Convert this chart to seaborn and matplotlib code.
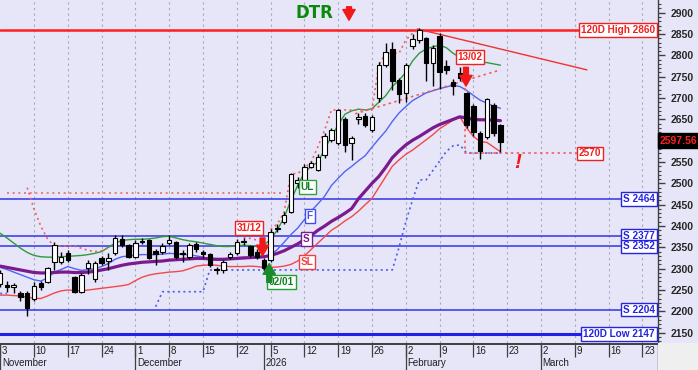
import numpy as np
import pandas as pd
import matplotlib
matplotlib.use("Agg")
import matplotlib.pyplot as plt
from matplotlib.patches import Rectangle
import seaborn as sns

sns.set_style("white")
plt.rcParams["font.family"] = ["Liberation Sans", "DejaVu Sans"]

# ---------------- data ----------------
holidays = ["2025-12-24", "2025-12-25", "2025-12-26", "2025-12-31", "2026-01-01"]
all_days = pd.bdate_range("2025-11-03", "2026-03-31")
days = all_days[~all_days.isin(pd.to_datetime(holidays))]

open_ = [2265, 2262, 2258, 2244, 2244, 2230, 2267, 2269, 2316, 2316,
         2336, 2281, 2246, 2301, 2275, 2324, 2317, 2337, 2369, 2355,
         2328, 2363, 2367, 2342, 2340, 2360, 2363, 2334, 2328, 2358,
         2340, 2334, 2300, 2298, 2327, 2336, 2363, 2352, 2340, 2320,
         2320, 2393, 2410, 2433, 2500, 2508, 2539, 2531, 2566, 2602,
         2594, 2652, 2594, 2652, 2658, 2625, 2700, 2777, 2815, 2742,
         2712, 2822, 2836, 2840, 2783, 2846, 2776, 2737, 2758, 2711,
         2682, 2618, 2609, 2684, 2637]
high = [2298, 2270, 2266, 2248, 2248, 2268, 2272, 2305, 2363, 2338,
        2343, 2283, 2290, 2320, 2318, 2330, 2336, 2380, 2378, 2358,
        2367, 2372, 2369, 2346, 2360, 2378, 2365, 2343, 2360, 2362,
        2344, 2337, 2305, 2320, 2340, 2370, 2373, 2356, 2345, 2325,
        2392, 2405, 2432, 2525, 2515, 2545, 2552, 2568, 2618, 2630,
        2675, 2656, 2612, 2665, 2664, 2660, 2785, 2828, 2832, 2748,
        2782, 2850, 2865, 2843, 2825, 2852, 2790, 2745, 2772, 2713,
        2686, 2622, 2700, 2688, 2640]
low = [2258, 2246, 2243, 2225, 2188, 2225, 2250, 2266, 2297, 2312,
       2315, 2243, 2243, 2288, 2268, 2308, 2296, 2332, 2350, 2325,
       2325, 2358, 2322, 2309, 2335, 2356, 2323, 2316, 2322, 2340,
       2325, 2305, 2288, 2290, 2322, 2332, 2356, 2328, 2322, 2296,
       2316, 2385, 2405, 2430, 2490, 2505, 2535, 2528, 2560, 2598,
       2590, 2574, 2555, 2640, 2632, 2620, 2690, 2772, 2720, 2688,
       2690, 2815, 2830, 2740, 2728, 2722, 2757, 2708, 2740, 2630,
       2612, 2558, 2605, 2612, 2574]
close = [2290, 2258, 2261, 2234, 2207, 2259, 2256, 2301, 2355, 2328,
         2320, 2246, 2285, 2314, 2314, 2313, 2324, 2371, 2355, 2328,
         2360, 2366, 2326, 2334, 2353, 2367, 2328, 2336, 2355, 2345,
         2334, 2309, 2296, 2316, 2334, 2363, 2366, 2332, 2327, 2301,
         2385, 2396, 2426, 2523, 2508, 2539, 2547, 2562, 2611, 2625,
         2672, 2590, 2606, 2655, 2637, 2655, 2777, 2807, 2740, 2710,
         2777, 2838, 2860, 2781, 2818, 2760, 2766, 2729, 2746, 2637,
         2620, 2575, 2698, 2617, 2597.56]

ul_line = [2383, 2372, 2360, 2348, 2338, 2331, 2328, 2327, 2327, 2328,
           2329, 2330, 2331, 2333, 2336, 2340, 2350, 2360, 2366, 2368,
           2369, 2369, 2370, 2372, 2375, 2376, 2372, 2368, 2365, 2363,
           2360, 2357, 2354, 2352, 2352, 2354, 2355, 2354, 2352, 2356,
           2368, 2391, 2420, 2460, 2495, 2525, 2540, 2550, 2580, 2610,
           2637, 2662, 2670, 2674, 2672, 2675, 2690, 2705, 2727, 2742,
           2760, 2787, 2805, 2815, 2820, 2824, 2818, 2805, 2795, 2786,
           2785, 2785, 2783, 2780, 2777]
fast_line = [2303, 2298, 2292, 2286, 2280, 2274, 2271, 2278, 2292, 2298,
             2305, 2300, 2296, 2298, 2300, 2305, 2312, 2322, 2328, 2330,
             2332, 2333, 2333, 2333, 2334, 2336, 2335, 2333, 2333, 2330,
             2327, 2322, 2320, 2320, 2322, 2326, 2327, 2326, 2325, 2327,
             2332, 2345, 2362, 2380, 2395, 2415, 2435, 2452, 2470, 2495,
             2512, 2528, 2540, 2553, 2565, 2585, 2604, 2622, 2645, 2665,
             2680, 2694, 2703, 2712, 2717, 2722, 2726, 2730, 2727, 2718,
             2706, 2695, 2688, 2681, 2676]
slow_line = [2306, 2303, 2300, 2297, 2294, 2291, 2290, 2290, 2291, 2292,
             2292, 2291, 2291, 2292, 2294, 2297, 2300, 2304, 2308, 2311,
             2313, 2315, 2316, 2317, 2318, 2320, 2321, 2322, 2323, 2324,
             2324, 2323, 2322, 2322, 2323, 2324, 2325, 2326, 2327, 2328,
             2331, 2336, 2342, 2350, 2358, 2368, 2378, 2390, 2400, 2411,
             2420, 2430, 2441, 2464, 2482, 2500, 2516, 2537, 2560, 2576,
             2590, 2601, 2610, 2620, 2630, 2638, 2644, 2650, 2656, 2653,
             2650, 2649, 2649, 2648, 2647]
sl_line = [2238, 2238, 2237, 2236, 2233, 2231, 2230, 2236, 2243, 2248,
           2250, 2249, 2248, 2250, 2252, 2254, 2256, 2258, 2260, 2263,
           2272, 2280, 2285, 2288, 2290, 2292, 2293, 2295, 2300, 2306,
           2308, 2309, 2308, 2306, 2305, 2305, 2305, 2306, 2305, 2303,
           2303, 2304, 2306, 2310, 2318, 2330, 2345, 2360, 2375, 2390,
           2400, 2412, 2422, 2435, 2450, 2465, 2490, 2515, 2540, 2555,
           2568, 2578, 2590, 2602, 2614, 2628, 2638, 2648, 2656, 2630,
           2610, 2598, 2596, 2585, 2574]
N = np.nan
stop_line = [2242, 2242, N, N, N, N, N, N, N, N,
             N, N, N, N, N, N, N, N, N, N,
             N, N, N, 2211, 2246, 2246, 2246, 2246, 2246, 2246,
             2246, 2297, 2297, 2297, 2297, 2297, 2297, 2297, 2297, 2297,
             2297, 2297, 2297, 2297, 2297, 2297, 2297, 2297, 2297, 2297,
             2297, 2297, 2297, 2297, 2297, 2297, 2297, 2297, 2297, 2350,
             2410, 2461, 2508, 2508, 2530, 2552, 2575, 2588, 2590, 2571,
             2571, 2571, 2571, 2571, 2571]
trail_a = [N, N, N, N, 2490, 2440, 2400, 2370, 2353, 2353,
           2353, 2353, 2348, 2343, 2340, 2342, 2350, N, N, N,
           N, N, N, N, N, N, N, N, N, N,
           N, N, N, N, N, N, 2373, 2371, 2367, N,
           N, N, N, N, N, N, N, N, N, N,
           N, N, N, N, N, N, N, N, N, N,
           N, N, N, N, N, N, N, N, N, N,
           N, N, N, N, N]
trail_b = [N] * 40 + [2392, 2405, 2432, 2523, 2523, 2535, 2550, 2586, 2625, 2672,
                      2672, 2672, 2672, 2672, 2672, 2672, 2777, 2805, 2805, 2805,
                      2836, 2852, 2860] + [N] * 12
level_2477 = (2477, 1, 42)             # value, first bar, last bar
support_levels = [2464, 2377, 2352, 2204]
support_labels = ["S 2464", "S 2377", "S 2352", "S 2204"]
high_120 = 2860
low_120 = 2147
level_2570 = 2570
last_price = 2597.56
trend_res_x = [61.7, 86.8]
trend_res_y = [2862, 2766]
trend_sup_x = [52.5, 74]
trend_sup_y = [2663, 2766]

# --------------- figure ---------------
W, H = 698, 370
bg = "#E6E6F8"
fig = plt.figure(figsize=(W / 100, H / 100), dpi=100)
fig.patch.set_facecolor(bg)
ax = fig.add_axes([0, 27 / H, 658 / W, 343 / H])
ax.set_facecolor(bg)
XMIN, XMAX = -0.03, 97.31
YMIN, YMAX = 2125.8, 2929.8
ax.set_xlim(XMIN, XMAX)
ax.set_ylim(YMIN, YMAX)

n = len(close)
idx = np.arange(n)
dates_all = list(days)

# week ticks (Mondays) and month separators
month_starts = []
prev_m = None
for i, d in enumerate(dates_all):
    if d.month != prev_m:
        month_starts.append(i)
        prev_m = d.month
mondays = [i for i, d in enumerate(dates_all) if d.weekday() == 0]
week_ticks = [i for i in mondays
              if not any(0 < m - i <= 3 for m in month_starts)]
week_ticks = [i for i in week_ticks if i <= XMAX]

for i in week_ticks:
    if i > 0:
        ax.axvline(i, color="#A8A8B8", lw=0.8, ls=(0, (2, 3)), zorder=0)

# horizontal levels
ax.axhline(high_120, color="#FF2020", lw=1.8, zorder=2)
for lv in support_levels:
    ax.axhline(lv, color="#3434E8", lw=1.1, zorder=2)
ax.axhline(low_120, color="#2020E8", lw=2.2, zorder=2)
ax.hlines(level_2477[0], level_2477[1], level_2477[2], color="#F06A6A",
          lw=1.2, ls=(0, (1.2, 2.2)), zorder=2)

# indicator lines (seaborn)
df = pd.DataFrame({"i": idx, "UL": ul_line, "F": fast_line,
                   "S": slow_line, "SL": sl_line})
sns.lineplot(data=df, x="i", y="SL", ax=ax, color="#F24848", lw=1.0,
             estimator=None, zorder=3)
sns.lineplot(data=df, x="i", y="F", ax=ax, color="#5064F5", lw=1.0,
             estimator=None, zorder=3)
sns.lineplot(data=df, x="i", y="S", ax=ax, color="#7A1A8E", lw=2.3,
             estimator=None, zorder=3)
sns.lineplot(data=df, x="i", y="UL", ax=ax, color="#2E9A3A", lw=1.0,
             estimator=None, zorder=3)

# dotted stops
ax.plot(idx, stop_line, color="#4A5CF0", lw=1.2, ls=(0, (1.2, 2.0)), zorder=3)
ax.plot(idx, trail_a, color="#F06060", lw=1.2, ls=(0, (1.2, 2.0)), zorder=3)
ax.plot(idx, trail_b, color="#F06060", lw=1.2, ls=(0, (1.2, 2.0)), zorder=3)
ax.plot(trend_sup_x, trend_sup_y, color="#F06060", lw=1.2,
        ls=(0, (1.5, 2.0)), zorder=3)
ax.plot(trend_res_x, trend_res_y, color="#F23030", lw=1.0, zorder=3)

# 2570 box
ax.plot([68.8, 68.8, 85.5], [2723, level_2570, level_2570], color="#F06060",
        lw=1.2, ls=(0, (1.5, 2.0)), zorder=3)

# candles
o = np.array(open_); c = np.array(close); h = np.array(high); l = np.array(low)
ax.vlines(idx, l, h, color="black", lw=1.0, zorder=4)
bottoms = np.minimum(o, c)
heights = np.maximum(np.abs(c - o), 1.5)
colors = ["white" if cc >= oo else "black" for oo, cc in zip(o, c)]
ax.bar(idx, heights, bottom=bottoms, width=0.66, color=colors,
       edgecolor="black", linewidth=0.8, zorder=5)

# labels
def box(x, y, s, color, ha="center", fs=7.2, fc="white", tc=None):
    ax.text(x, y, s, color=tc or color, fontsize=fs, fontweight="bold",
            ha=ha, va="center", zorder=10,
            bbox=dict(boxstyle="square,pad=0.18", fc=fc, ec=color, lw=1.0))

RX = 96.85
box(RX, high_120, "120D High 2860", "#F02020", ha="right")
for lv, lab in zip(support_levels, support_labels):
    box(RX, lv, lab, "#2424E0", ha="right")
box(RX, low_120, "120D Low 2147", "#2424E0", ha="right")
box(87.3, level_2570, "2570", "#F02020")
box(69.5, 2796, "13/02", "#F02020")
box(36.8, 2395, "31/12", "#F02020")
box(41.6, 2269, "02/01", "#20A030", tc="#108020")
box(45.4, 2491, "UL", "#30A040", tc="#108020")
box(45.8, 2423, "F", "#4050F0")
box(45.3, 2369, "S", "#7A1A8E")
box(45.4, 2316, "SL", "#F04040")

def arrow(x, y0, y1, color):
    ax.annotate("", xy=(x, y1), xytext=(x, y0), zorder=11,
                arrowprops=dict(arrowstyle="simple,head_length=0.7,head_width=0.8,tail_width=0.32",
                                color=color, mutation_scale=11,
                                shrinkA=0, shrinkB=0))

arrow(68.9, 2772, 2728, "#F01818")
arrow(38.8, 2372, 2330, "#F01818")
arrow(39.8, 2268, 2312, "#1A8A2A")

ax.text(76.5, 2550, "!", color="#F01818", fontsize=15, fontweight="bold",
        style="italic", ha="center", va="center", zorder=10)

# title
fig.text(314 / W, 1 - 12.5 / H, "DTR", color="#0A8A0A", fontsize=12,
         fontweight="bold", ha="center", va="center",
         family="DejaVu Sans")
fig.add_artist(matplotlib.patches.FancyArrowPatch(
    (349 / W, 1 - 4 / H), (349 / W, 1 - 23 / H), transform=fig.transFigure,
    arrowstyle="simple,head_length=0.7,head_width=0.8,tail_width=0.32",
    mutation_scale=11, color="#F01818"))

# right axis
for s in ["top", "left", "bottom"]:
    ax.spines[s].set_visible(False)
ax.spines["right"].set_color("#404040")
ax.spines["right"].set_linewidth(1.0)
ax.yaxis.tick_right()
yt = np.arange(2150, 2901, 50)
ax.set_yticks(yt)
# the 2600 label sits under the last-price box, as in the reference
ax.set_yticklabels(["" if v == 2600 else str(v) for v in yt])
ax.set_yticks(np.arange(2130, 2930, 10), minor=True)
ax.tick_params(axis="y", which="major", length=5, width=1, color="#404040",
               labelsize=7.5, pad=4, right=True, left=False)
ax.tick_params(axis="y", which="minor", length=2.5, width=0.8,
               color="#404040", right=True, left=False)
for t in ax.get_yticklabels():
    t.set_fontweight("bold")
ax.set_xticks([])
ax.set_xlabel("")
ax.set_ylabel("")

# last price
fig.text(660 / W, 1 - 140.5 / H, f"{last_price:.2f}", color="#FF2020",
         fontsize=7.5, fontweight="bold", ha="left", va="center",
         bbox=dict(boxstyle="square,pad=0.2", fc="black", ec="black"))

# date strip
ax2 = fig.add_axes([0, 0, 658 / W, 27 / H])
ax2.set_facecolor(bg)
ax2.set_xlim(XMIN, XMAX)
ax2.set_ylim(0, 27)
ax2.axis("off")
ax2.axhline(26.5, color="#404040", lw=1.4)
ax2.axvline(XMAX, color="#404040", lw=1.0)
for i in week_ticks:
    ax2.vlines(i, 13, 27, color="#404040", lw=0.9)
    ax2.text(i + 0.25, 19.5, str(dates_all[i].day), fontsize=7,
             color="#202020", ha="left", va="center")
month_names = {11: "November", 12: "December", 1: "2026", 2: "February",
               3: "March"}
for i in month_starts:
    if i > XMAX:
        continue
    ax2.vlines(i, 0, 27, color="#404040", lw=0.9)
    ax2.text(i + 0.25, 6.5, month_names[dates_all[i].month], fontsize=7,
             color="#202020", ha="left", va="center")

fig.add_artist(Rectangle((658 / W, 0), 40 / W, 27 / H,
                         transform=fig.transFigure, fc="#EFEFEF", ec="none"))

fig.savefig("out.png", dpi=100, facecolor=bg)
